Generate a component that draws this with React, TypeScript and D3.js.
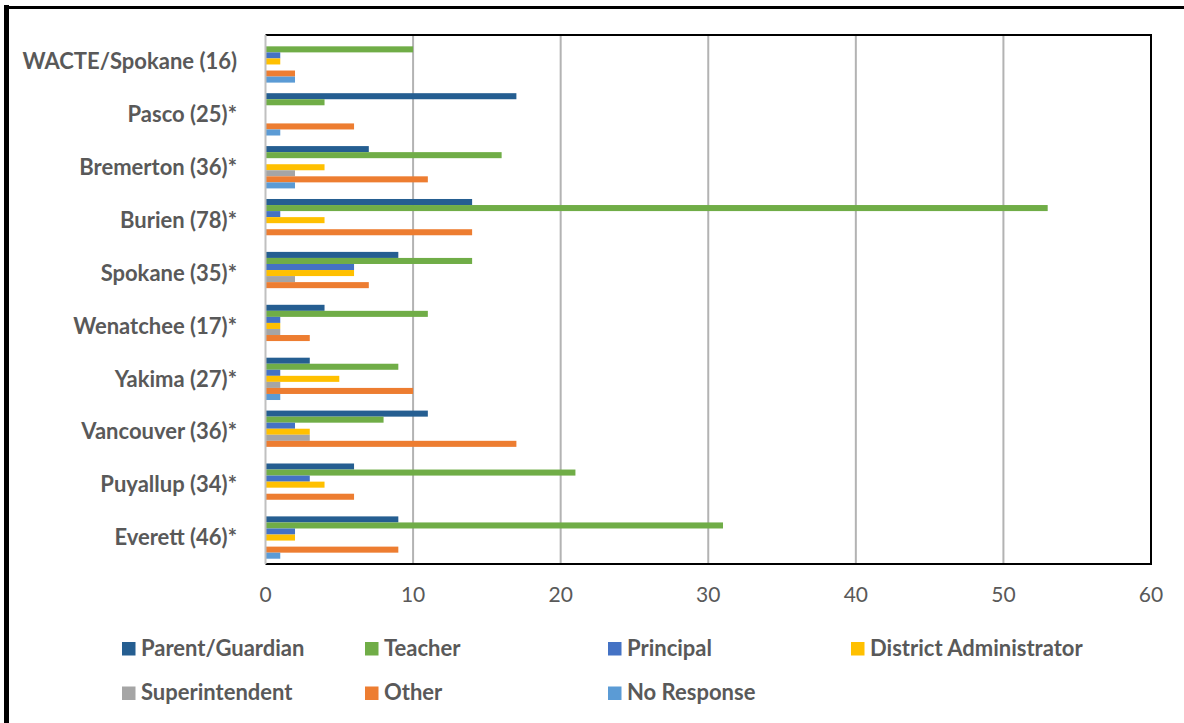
import React from "react";
import * as d3 from "d3";

const categories = [
  "WACTE/Spokane (16)",
  "Pasco (25)*",
  "Bremerton (36)*",
  "Burien (78)*",
  "Spokane (35)*",
  "Wenatchee (17)*",
  "Yakima (27)*",
  "Vancouver (36)*",
  "Puyallup (34)*",
  "Everett (46)*",
];

const seriesNames = [
  "Parent/Guardian",
  "Teacher",
  "Principal",
  "District Administrator",
  "Superintendent",
  "Other",
  "No Response",
];

const parentGuardian = [0, 17, 7, 14, 9, 4, 3, 11, 6, 9];
const teacher = [10, 4, 16, 53, 14, 11, 9, 8, 21, 31];
const principal = [1, 0, 0, 1, 6, 1, 1, 2, 3, 2];
const districtAdmin = [1, 0, 4, 4, 6, 1, 5, 3, 4, 2];
const superintendent = [0, 0, 2, 0, 2, 1, 1, 3, 0, 0];
const other = [2, 6, 11, 14, 7, 3, 10, 17, 6, 9];
const noResponse = [2, 1, 2, 0, 0, 0, 1, 0, 0, 1];

const seriesValues = [parentGuardian, teacher, principal, districtAdmin, superintendent, other, noResponse];
const colors = ["#255e91", "#70ad47", "#4472c4", "#ffc000", "#a5a5a5", "#ed7d31", "#5b9bd5"];
const xTicks = [0, 10, 20, 30, 40, 50, 60];

export default function App() {
  const W = 1184, H = 723;
  const left = 265.5, right = 1151, top = 35, bottom = 564;
  const x = d3.scaleLinear().domain([0, 60]).range([left, right]);
  const y = d3.scaleBand<string>().domain(categories).range([top, bottom]).paddingInner(0.2).paddingOuter(0.1);
  const inner = d3.scaleBand<string>().domain(seriesNames).range([0, y.bandwidth()]);
  const font = "Lato, 'Open Sans', sans-serif";
  const textCol = "#595959";
  const legendCols = [122, 365, 608, 851];
  return (
    <svg width={W} height={H} style={{ position: "absolute", left: 0, top: 0, background: "#fff" }}>
      <rect x={0} y={0} width={W} height={H} fill="#fff" />
      {/* outer frame */}
      <line x1={6.5} x2={6.5} y1={5} y2={H} stroke="#000" strokeWidth={5} />
      <line x1={4} x2={W} y1={7.5} y2={7.5} stroke="#000" strokeWidth={3} />
      {/* gridlines */}
      {xTicks.slice(1, -1).map((t) => (
        <line key={t} x1={x(t)} x2={x(t)} y1={top} y2={bottom} stroke="#b3b3b3" strokeWidth={2} />
      ))}
      {/* bars */}
      {categories.map((c, ci) => (
        <g key={c} transform={`translate(0,${y(c)})`}>
          {seriesNames.map((s, si) => {
            const v = seriesValues[si][ci];
            if (!v) return null;
            return (
              <rect
                key={s}
                x={x(0)}
                y={inner(s)}
                width={x(v) - x(0)}
                height={inner.bandwidth()}
                fill={colors[si]}
              />
            );
          })}
        </g>
      ))}
      {/* plot border */}
      <line x1={left} x2={right} y1={top} y2={top} stroke="#000" strokeWidth={2} />
      <line x1={right} x2={right} y1={top - 1} y2={bottom + 1} stroke="#000" strokeWidth={2} />
      <line x1={left} x2={right} y1={bottom} y2={bottom} stroke="#000" strokeWidth={2} />
      <line x1={left} x2={left} y1={top} y2={bottom} stroke="#c0c0c0" strokeWidth={2} />
      {/* category labels */}
      {categories.map((c) => (
        <text
          key={c}
          x={237}
          y={(y(c) as number) + y.bandwidth() / 2}
          dy="0.35em"
          textAnchor="end"
          fontFamily={font}
          fontWeight="bold"
          fontSize={22}
          fill={textCol}
        >
          {c}
        </text>
      ))}
      {/* x tick labels */}
      {xTicks.map((t) => (
        <text key={t} x={x(t)} y={602} textAnchor="middle" fontFamily={font} fontSize={21} fill={textCol}>
          {t}
        </text>
      ))}
      {/* legend */}
      {seriesNames.map((s, i) => {
        const col = i % 4;
        const row = Math.floor(i / 4);
        const lx = legendCols[col];
        const ly = 642 + row * 44.5;
        return (
          <g key={s}>
            <rect x={lx} y={ly} width={13.5} height={13.5} fill={colors[i]} />
            <text x={lx + 19} y={ly + 13.5} fontFamily={font} fontWeight="bold" fontSize={22} fill={textCol}>
              {s}
            </text>
          </g>
        );
      })}
    </svg>
  );
}
